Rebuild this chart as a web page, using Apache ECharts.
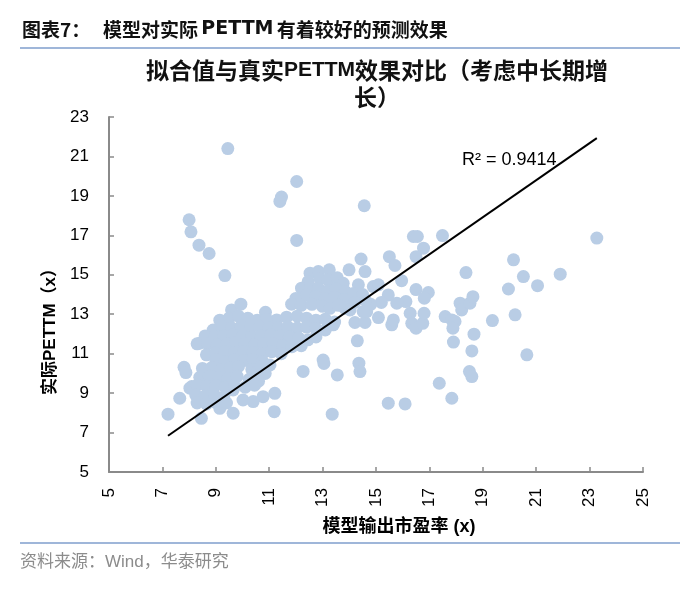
<!DOCTYPE html>
<html>
<head>
<meta charset="utf-8">
<script src="https://cdn.jsdelivr.net/npm/echarts@6/dist/echarts.min.js"></script>
<style>
  html, body { margin: 0; padding: 0; background: #fff; }
  #chart { width: 700px; height: 592px; }
</style>
</head>
<body>
<div id="chart"></div>
<script>
var FONT = '"Liberation Sans", "Noto Sans CJK SC", sans-serif';
var CJK = '"Noto Sans CJK SC", sans-serif';

// 模型输出市盈率 / 实际PETTM，按区域分组读取
var upperPoints = [
  [9.45, 21.4], [12.03, 19.73], [11.46, 18.94], [11.4, 18.72], [14.56, 18.5],
  [8.0, 17.79], [8.07, 17.18], [8.37, 16.5], [8.75, 16.08], [12.03, 16.74],
  [9.34, 14.96], [16.4, 16.94], [16.55, 16.94], [17.49, 16.99], [23.27, 16.86],
  [16.78, 16.35], [16.5, 15.92], [15.5, 15.92], [15.71, 15.47], [14.44, 15.8]
];

var rightPoints = [
  [15.96, 14.7], [16.5, 14.25], [16.96, 14.1], [16.81, 13.81], [16.12, 13.64],
  [15.78, 13.56], [15.46, 13.98], [15.2, 13.6], [14.8, 13.5], [18.37, 15.11],
  [20.15, 15.76], [20.52, 14.91], [21.9, 15.03], [21.05, 14.45], [19.96, 14.28],
  [18.15, 13.56], [18.21, 13.22], [18.52, 13.56], [18.63, 13.89], [20.21, 12.97],
  [19.36, 12.68], [17.59, 12.88], [17.84, 12.71], [17.96, 12.63], [17.88, 12.29],
  [18.67, 11.99], [17.9, 11.59], [18.59, 11.14], [20.65, 10.94], [18.5, 10.09],
  [18.59, 9.84], [17.37, 9.5], [17.84, 8.74], [15.46, 8.49], [16.09, 8.45],
  [16.28, 13.05], [16.34, 12.54], [16.5, 12.29], [16.75, 12.54], [16.8, 13.05],
  [15.09, 12.83], [15.59, 12.46], [15.65, 12.71], [14.21, 12.58], [14.59, 12.58],
  [14.65, 13.13], [14.3, 11.65], [14.36, 10.52], [14.4, 10.09], [13.55, 9.92],
  [13.36, 7.93], [13.02, 10.68], [13.05, 10.5], [12.27, 10.1]
];

var lowerPoints = [
  [7.21, 7.93], [7.65, 8.74], [7.81, 10.31], [7.88, 10.04], [8.03, 9.25],
  [8.1, 9.33], [8.46, 7.72], [9.15, 8.23], [9.65, 7.98], [11.19, 8.06],
  [8.4, 11.53], [11.21, 8.99], [10.77, 8.82], [10.4, 8.57], [10.02, 8.65],
  [9.65, 9.16]
];

var clusterTop = [
  [12.53, 15.08], [12.84, 15.16], [13.25, 15.25], [12.46, 14.65], [12.21, 14.32],
  [12.9, 14.8], [13.2, 14.75], [13.55, 14.85], [13.77, 14.57], [13.99, 15.25],
  [14.59, 15.16], [14.34, 14.49], [14.9, 14.4], [15.09, 14.49],
  [12.55, 14.35], [12.85, 14.3], [13.2, 14.2], [13.5, 14.3], [13.85, 14.15],
  [14.15, 14.05], [14.5, 14.0],
  [12.0, 13.8], [12.4, 13.98], [12.75, 13.9], [13.1, 13.8], [13.45, 13.85],
  [13.8, 13.75], [14.2, 13.6], [14.6, 13.7],
  [11.84, 13.51], [12.2, 13.45], [12.6, 13.5], [13.0, 13.4], [13.27, 13.3],
  [13.6, 13.45], [13.84, 13.3], [14.03, 13.22], [14.52, 13.13]
];

var clusterMid = [
  [9.59, 13.22], [9.94, 13.51], [10.86, 13.1], [11.28, 12.71],
  [9.15, 12.7], [9.5, 12.8], [9.85, 12.9], [10.2, 12.8], [10.55, 12.7],
  [10.9, 12.75], [11.65, 12.85], [12.05, 12.9], [12.4, 12.8], [12.75, 12.7],
  [13.1, 12.75], [13.45, 12.6],
  [8.9, 12.2], [9.25, 12.35], [9.6, 12.3], [9.95, 12.4], [10.3, 12.3],
  [10.65, 12.35], [11.0, 12.3], [11.35, 12.3], [11.7, 12.35], [12.05, 12.3],
  [12.4, 12.35], [12.75, 12.25], [13.1, 12.2], [13.27, 12.46], [13.4, 12.46],
  [8.6, 11.9], [8.95, 11.85], [9.3, 11.9], [9.65, 11.95], [10.0, 11.9],
  [10.35, 11.85], [10.7, 11.9], [11.05, 11.95], [11.4, 11.9], [11.75, 11.85],
  [12.1, 11.8], [12.45, 11.7], [12.75, 11.85],
  [8.3, 11.5], [8.7, 11.5], [9.05, 11.45], [9.4, 11.5], [9.75, 11.55],
  [10.1, 11.5], [10.45, 11.45], [10.8, 11.5], [11.15, 11.5], [11.5, 11.4],
  [11.85, 11.35], [12.2, 11.4],
  [8.65, 10.94], [9.0, 11.05], [9.35, 11.1], [9.7, 11.05], [10.05, 11.1],
  [10.4, 11.05], [10.75, 11.0], [11.1, 11.1], [11.45, 11.0],
  [9.0, 10.7], [9.35, 10.6], [9.7, 10.7], [10.05, 10.65], [10.4, 10.7],
  [10.75, 10.6], [11.03, 10.43]
];

var clusterLow = [
  [8.5, 10.25], [8.85, 10.3], [9.2, 10.2], [9.55, 10.3], [9.85, 10.35],
  [10.35, 10.2], [10.55, 10.1], [10.7, 10.35], [10.85, 10.0],
  [8.4, 9.8], [8.75, 9.85], [9.1, 9.8], [9.45, 9.75], [9.8, 9.85],
  [10.25, 9.7], [10.6, 9.6],
  [8.3, 9.4], [8.65, 9.35], [9.0, 9.4], [9.35, 9.3], [9.7, 9.35],
  [10.1, 9.3], [10.45, 9.4],
  [8.25, 8.9], [8.6, 8.85], [8.95, 8.9], [9.3, 8.8],
  [8.3, 8.5], [8.65, 8.45], [8.95, 8.55], [9.4, 8.5]
];

// 趋势线端点
var trendX = [7.21, 23.27];
var trendY = [6.84, 21.93];
var r2Text = 'R² = 0.9414';

var yTicks = { min: 5, max: 23, interval: 2 };
var xTicks = { min: 5, max: 25, interval: 2 };

var allPoints = upperPoints.concat(rightPoints, lowerPoints, clusterTop, clusterMid, clusterLow);
var trendData = trendX.map(function (x, i) { return [x, trendY[i]]; });

var myChart = echarts.init(document.getElementById('chart'));

var axisColor = '#8a8a8a';

myChart.setOption({
  backgroundColor: '#fff',
  animation: false,
  grid: { left: 109, right: 57, top: 117, bottom: 120 },
  xAxis: {
    type: 'value',
    min: xTicks.min, max: xTicks.max, interval: xTicks.interval,
    name: '模型输出市盈率 (x)',
    nameLocation: 'middle',
    nameGap: 46,
    nameTextStyle: { fontFamily: FONT, fontSize: 18, fontWeight: 'bold', color: '#000', padding: [0, 0, 0, 46] },
    axisLine: { lineStyle: { color: axisColor, width: 2 } },
    axisTick: { inside: true, length: 5, lineStyle: { color: axisColor, width: 1.5 } },
    axisLabel: { rotate: 90, margin: 16, fontFamily: FONT, fontSize: 17, color: '#000' },
    splitLine: { show: false }
  },
  yAxis: {
    type: 'value',
    min: yTicks.min, max: yTicks.max, interval: yTicks.interval,
    name: '实际PETTM（x）',
    nameLocation: 'middle',
    nameGap: 49,
    nameTextStyle: { fontFamily: FONT, fontSize: 17, fontWeight: 'bold', color: '#000', padding: [0, 66, 0, 0] },
    axisLine: { show: true, lineStyle: { color: axisColor, width: 2 } },
    axisTick: { show: true, inside: true, length: 5, lineStyle: { color: axisColor, width: 1.5 } },
    axisLabel: { margin: 20, fontFamily: FONT, fontSize: 17, color: '#000' },
    splitLine: { show: false }
  },
  series: [
    {
      type: 'scatter',
      data: allPoints,
      symbolSize: 13,
      itemStyle: { color: '#b9cde5', opacity: 1 },
      z: 2
    },
    {
      type: 'line',
      data: trendData,
      showSymbol: false,
      lineStyle: { color: '#000', width: 2 },
      silent: true,
      z: 3
    }
  ],
  graphic: [
    {
      type: 'text', left: 22, top: 20,
      style: { text: '图表7：', fontFamily: CJK, fontSize: 19, fontWeight: 'bold', fill: '#111' }
    },
    {
      type: 'text', left: 103, top: 20,
      style: {
        text: '{h|模型对实际} {e|PETTM} {h|有着较好的预测效果}',
        rich: {
          h: { fontFamily: CJK, fontSize: 19, fontWeight: 'bold', fill: '#111' },
          e: { fontFamily: '"DejaVu Sans", sans-serif', fontSize: 19, fontWeight: 'bold', fill: '#111' }
        }
      }
    },
    {
      type: 'line',
      shape: { x1: 20, y1: 48, x2: 680, y2: 48 },
      style: { stroke: '#9fb6d9', lineWidth: 2 }
    },
    {
      type: 'text', x: 377, y: 57,
      style: {
        text: '{c|拟合值与真实}{e|PETTM}{c|效果对比（考虑中长期增}\n{c|长）}',
        align: 'center',
        verticalAlign: 'top',
        rich: {
          c: { fontFamily: CJK, fontSize: 23, fontWeight: 'bold', fill: '#111', lineHeight: 27 },
          e: { fontFamily: FONT, fontSize: 21, fontWeight: 'bold', fill: '#111', lineHeight: 27 }
        }
      }
    },
    {
      type: 'text', left: 462, top: 151,
      style: { text: r2Text, fontFamily: FONT, fontSize: 18, fill: '#000' }
    },
    {
      type: 'line',
      shape: { x1: 20, y1: 543, x2: 680, y2: 543 },
      style: { stroke: '#9fb6d9', lineWidth: 2 }
    },
    {
      type: 'text', left: 20, top: 554,
      style: { text: '资料来源：Wind，华泰研究', fontFamily: FONT, fontSize: 17, fill: '#8c8c8c' }
    }
  ]
});
</script>
</body>
</html>
